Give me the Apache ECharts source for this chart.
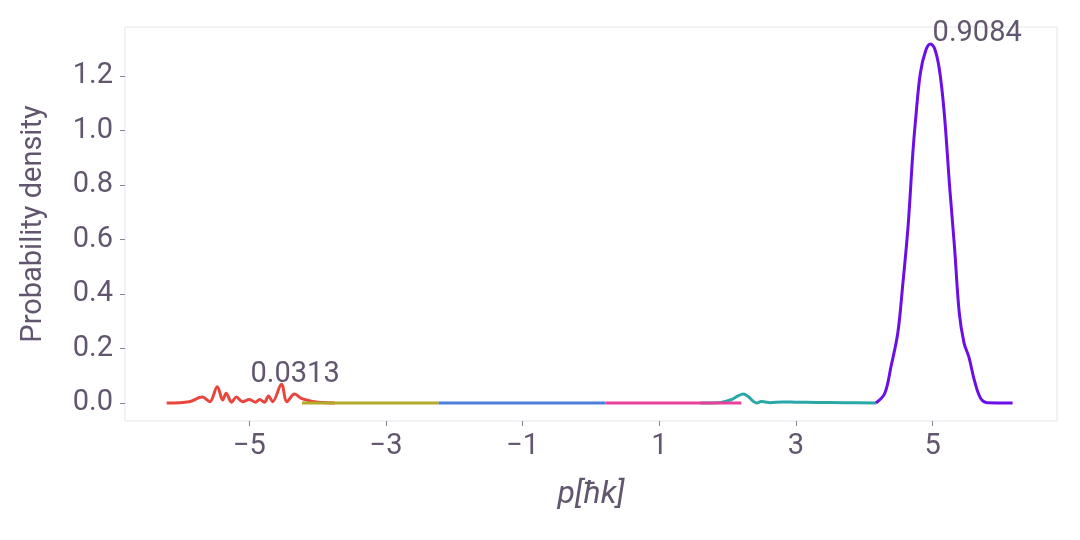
<!DOCTYPE html>
<html>
<head>
<meta charset="utf-8">
<script src="https://cdn.jsdelivr.net/npm/echarts@6/dist/echarts.min.js"></script>
<style>
  html, body { margin: 0; padding: 0; background: #fff; }
  #chart { width: 1080px; height: 540px; }
</style>
</head>
<body>
<div id="chart"></div>
<script>
// 各段动量分布
const redX = [-6.21, -5.88, -5.69, -5.58, -5.47, -5.39, -5.34, -5.26, -5.19, -5.10, -5.00, -4.91, -4.85, -4.78, -4.72, -4.66, -4.53, -4.45, -4.34, -4.23, -4.08, -3.93, -3.75]
const redY = [0.0, 0.005, 0.022, 0.005, 0.060, 0.011, 0.036, 0.003, 0.022, 0.005, 0.013, 0.003, 0.013, 0.003, 0.026, 0.005, 0.069, 0.005, 0.033, 0.016, 0.006, 0.002, 0.0]
const oliveX = [-4.23, -3.5, -2.8, -2.23]
const oliveY = [0, 0, 0, 0]
const blueX = [-2.23, -1.0, 0.21]
const blueY = [0, 0, 0]
const tealX = [1.6, 1.9, 2.05, 2.15, 2.23, 2.3, 2.38, 2.43, 2.49, 2.55, 2.62, 2.8, 3.0, 3.3, 3.7, 4.17]
const tealY = [0, 0.002, 0.012, 0.026, 0.033, 0.024, 0.005, 0.0, 0.006, 0.004, 0.001, 0.004, 0.003, 0.002, 0.001, 0]
const pinkX = [0.21, 1.2, 2.2]
const pinkY = [0, 0, 0]
const purpleX = [4.17, 4.30, 4.39, 4.49, 4.56, 4.64, 4.71, 4.75, 4.82, 4.90, 4.97, 5.03, 5.10, 5.17, 5.25, 5.32, 5.39, 5.46, 5.53, 5.61, 5.70, 5.80, 6.17]
const purpleY = [0, 0.036, 0.133, 0.257, 0.427, 0.647, 0.917, 1.039, 1.21, 1.295, 1.318, 1.30, 1.222, 1.064, 0.79, 0.572, 0.33, 0.22, 0.169, 0.084, 0.018, 0.001, 0]

const xTicks = [-5, -3, -1, 1, 3, 5]
const yTicks = [0, 0.2, 0.4, 0.6, 0.8, 1.0, 1.2]

const textColor = '#62566f'
const fontSize = 29
const zip = (xs, ys) => xs.map((x, i) => [x, ys[i]])

const chart = echarts.init(document.getElementById('chart'), null, { renderer: 'canvas' })

const mkLine = (name, xs, ys, color, extra) => Object.assign({
  name,
  type: 'line',
  data: zip(xs, ys),
  showSymbol: false,
  smooth: 0.35,
  lineStyle: { color, width: 3 },
  itemStyle: { color },
  animation: false
}, extra || {})

const option = {
  backgroundColor: '#fff',
  textStyle: { fontFamily: 'Roboto' },
  grid: {
    left: 125, right: 23, top: 27, bottom: 119,
    show: true, borderColor: '#e2e5ec', borderWidth: 1
  },
  xAxis: {
    type: 'value',
    min: -6.82, max: 6.82,
    name: 'p[ħk]',
    nameLocation: 'middle',
    nameGap: 58,
    nameTextStyle: { color: textColor, fontSize: 32, fontStyle: 'italic', fontFamily: 'Roboto' },
    axisLine: { show: false, onZero: false },
    splitLine: { show: false },
    axisTick: { show: true, length: 5, lineStyle: { color: '#8a8296' }, customValues: xTicks },
    axisLabel: {
      color: textColor, fontSize, margin: 11, fontFamily: 'Roboto',
      customValues: xTicks,
      formatter: v => v < 0 ? '\u2212' + Math.abs(v) : String(v)
    }
  },
  yAxis: {
    type: 'value',
    min: -0.066, max: 1.38,
    name: 'Probability density',
    nameLocation: 'middle',
    nameGap: 77,
    nameTextStyle: { color: textColor, fontSize: 29, fontFamily: 'Roboto' },
    axisLine: { show: false, onZero: false },
    splitLine: { show: false },
    axisTick: { show: true, length: 5, lineStyle: { color: '#8a8296' }, customValues: yTicks },
    axisLabel: {
      color: textColor, fontSize, margin: 12, fontFamily: 'Roboto',
      customValues: yTicks,
      formatter: v => v.toFixed(1)
    }
  },
  series: [
    mkLine('red', redX, redY, '#e8453c', {
      markPoint: {
        symbolSize: 0,
        data: [{ coord: [-4.33, 0.045], value: '0.0313' }],
        label: { show: true, position: 'top', distance: 2, color: textColor, fontSize, fontFamily: 'Roboto', formatter: '0.0313' }
      }
    }),
    mkLine('olive', oliveX, oliveY, '#b4aa2c'),
    mkLine('blue', blueX, blueY, '#4b7fdc'),
    mkLine('teal', tealX, tealY, '#2aa7a8'),
    mkLine('pink', pinkX, pinkY, '#e8409b'),
    mkLine('purple', purpleX, purpleY, '#6c0ee8', {
      markPoint: {
        symbolSize: 0,
        data: [{ coord: [4.97, 1.318], value: '0.9084' }],
        label: { show: true, position: 'right', distance: 2, offset: [0, -10], color: textColor, fontSize, fontFamily: 'Roboto', formatter: '0.9084' }
      }
    })
  ]
}

chart.setOption(option)
window.addEventListener('resize', () => chart.resize())
</script>
</body>
</html>
